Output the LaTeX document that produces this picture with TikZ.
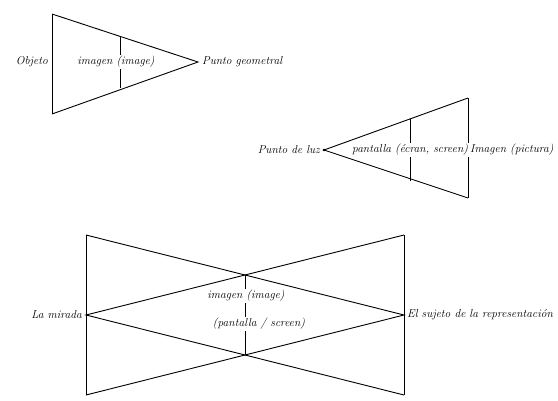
\documentclass[tikz,border=0pt]{standalone}
\usetikzlibrary{positioning}
\begin{document}
\begin{tikzpicture}[x=1pt, y=-1pt,
    font=\fontsize{11.5}{13}\selectfont\itshape,
    side/.style={line width=0.9pt},
    base/.style={line width=0.7pt},
    cut/.style={line width=0.6pt},
    lbl/.style={inner sep=1pt, fill=white}
  ]
    \useasboundingbox (0,0) rectangle (558,400);

    % first triangle
    \coordinate (objtop) at (52,14);
    \coordinate (objbot) at (52,114);
    \coordinate (obj) at (52,62);
    \coordinate (geom) at (198,62);
    \coordinate (imgtop) at (120,36);
    \coordinate (imgbot) at (120,88);

    \draw[base] (objtop) -- (objbot);
    \draw[side] (objtop) -- (geom) -- (objbot);
    \draw[cut] (imgtop) -- (imgbot);

    \node[lbl, left=3pt of obj] (objlbl) {Objeto};
    \node[lbl] (imglbl) at (116,62) {imagen (image)};
    \node[lbl, right=3pt of geom] (geomlbl) {Punto geometral};

    % second triangle
    \coordinate (light) at (324,150);
    \coordinate (pictop) at (468,98);
    \coordinate (picbot) at (468,198);
    \coordinate (pic) at (468,150);
    \coordinate (scrtop) at (410,119);
    \coordinate (scrbot) at (410,181);

    \draw[base] (pictop) -- (picbot);
    \draw[side] (pictop) -- (light) -- (picbot);
    \draw[cut] (scrtop) -- (scrbot);
    \fill (light) circle (1.3pt);

    \node[lbl, left=3pt of light] (lightlbl) {Punto de luz};
    \node[lbl] (scrlbl) at (410,150) {pantalla (\'ecran, screen)};
    \node[lbl, right=1pt of pic] (piclbl) {Imagen (pictura)};

    % both triangles crossed
    \coordinate (gazetop) at (86,235);
    \coordinate (gazebot) at (86,395);
    \coordinate (gaze) at (86,315);
    \coordinate (subjtop) at (404,235);
    \coordinate (subjbot) at (404,395);
    \coordinate (subj) at (404,315);
    \coordinate (crosstop) at (245,275);
    \coordinate (crossbot) at (245,355);

    \draw[base] (gazetop) -- (gazebot);
    \draw[base] (subjtop) -- (subjbot);
    \draw[side] (gazetop) -- (subj) -- (gazebot);
    \draw[side] (subjtop) -- (gaze) -- (subjbot);
    \draw[cut] (crosstop) -- (crossbot);

    \node[lbl, left=3pt of gaze] (gazelbl) {La mirada};
    \node[lbl, right=2pt of subj] (subjlbl) {El sujeto de la representaci\'on};
    \node[lbl] (midimg) at (246,296) {imagen (image)};
    \node[lbl] (midscr) at (259,324) {(pantalla / screen)};
  \end{tikzpicture}
\end{document}
